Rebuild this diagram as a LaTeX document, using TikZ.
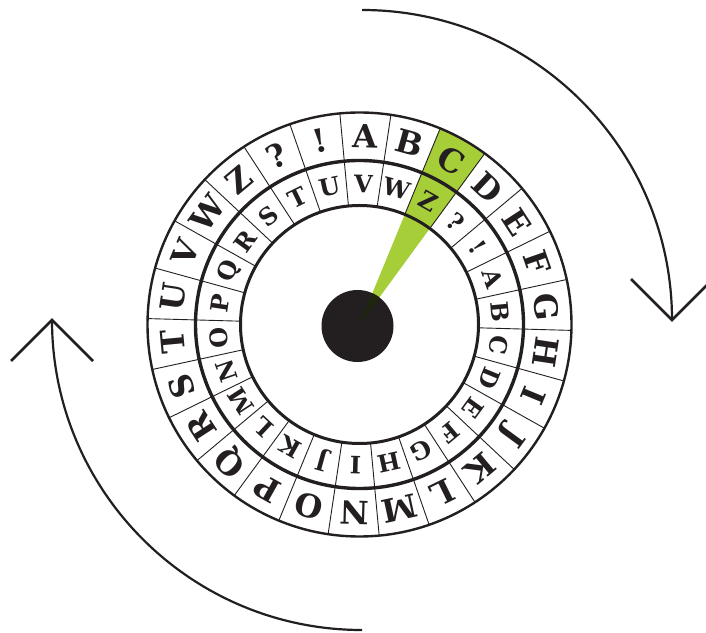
\documentclass[tikz,border=0pt]{standalone}
\usepackage{fontspec}
\newfontfamily\wheelfont{DejaVu Serif}
\definecolor{ink}{HTML}{231F20}
\definecolor{leaf}{RGB}{166,206,57}
\definecolor{leafdark}{RGB}{30,38,14}
\begin{document}
\begin{tikzpicture}[x=1pt,y=1pt,
  outerletter/.style={font=\wheelfont\bfseries\fontsize{32}{32}\selectfont, text=ink, inner sep=0pt, anchor=center},
  innerletter/.style={font=\wheelfont\bfseries\fontsize{24}{24}\selectfont, text=ink, inner sep=0pt, anchor=center},
  spoke/.style={draw=ink, line width=0.9pt},
  swirl/.style={draw=ink, line width=2.2pt},
  swirltip/.style={draw=ink, line width=2.6pt, line join=miter}]
\clip (0,0) rectangle (706,632);
\fill[white] (0,0) rectangle (706,632);
\def\dl{1.6}
\def\sg{13.846}
\begin{scope}[shift={(359.5,307.5)}]
  \coordinate (hub) at (0,0);
  % green pointer wedge over segment C
  \fill[leaf] (hub) -- ({90-\dl-2*\sg+\sg/2}:212)
    arc[start angle={90-\dl-2*\sg+\sg/2}, end angle={90-\dl-2*\sg-\sg/2}, radius=212] -- cycle;
  % spokes
  \foreach \n in {0,...,25} {
    \pgfmathsetmacro\ang{90-\dl-\n*\sg+\sg/2}
    \draw[spoke] (\ang:119) -- (\ang:212);
  }
  % outer letters
  \foreach \l [count=\n from 0] in {A,B,C,D,E,F,G,H,I,J,K,L,M,N,O,P,Q,R,S,T,U,V,W,Z,?,!} {
    \pgfmathsetmacro\ang{90-\dl-\n*\sg}
    \pgfmathsetmacro\rot{\ang-90}
    \node[outerletter, rotate=\rot] (o\n) at (\ang:188) {\l};
  }
  % inner letters
  \foreach \l [count=\n from 0] in {V,W,Z,?,!,A,B,C,D,E,F,G,H,I,J,K,L,M,N,O,P,Q,R,S,T,U} {
    \pgfmathsetmacro\ang{90-\dl-\n*\sg}
    \pgfmathsetmacro\rot{\ang-90}
    \node[innerletter, rotate=\rot] (i\n) at (\ang:141) {\l};
  }
  % rings
  \draw[ink, line width=2.4pt] (hub) circle[radius=212];
  \draw[ink, line width=3.4pt] (hub) circle[radius=164];
  \draw[ink, line width=3pt] (hub) circle[radius=119];
  % hub dot
  \fill[ink] (-2,-1.5) circle[radius=36];
  \begin{scope}
    \clip (-2,-1.5) circle[radius=36];
    \fill[leafdark] (hub) -- ({90-\dl-2*\sg+\sg/2}:60) -- ({90-\dl-2*\sg-\sg/2}:60) -- cycle;
  \end{scope}
\end{scope}
% rotation arrows
\coordinate (rstart) at (362,622);
\coordinate (rarmA) at (631,353);
\coordinate (rarmB) at (713,353);
\draw[swirl] (rstart) arc[start angle=90, end angle=0, radius=310] coordinate (rtip);
\draw[swirltip] (rarmA) -- (rtip) -- (rarmB);
\coordinate (lstart) at (362,2);
\coordinate (larmA) at (11,271);
\coordinate (larmB) at (93,271);
\draw[swirl] (lstart) arc[start angle=270, end angle=180, radius=310] coordinate (ltip);
\draw[swirltip] (larmA) -- (ltip) -- (larmB);
\end{tikzpicture}
\end{document}
